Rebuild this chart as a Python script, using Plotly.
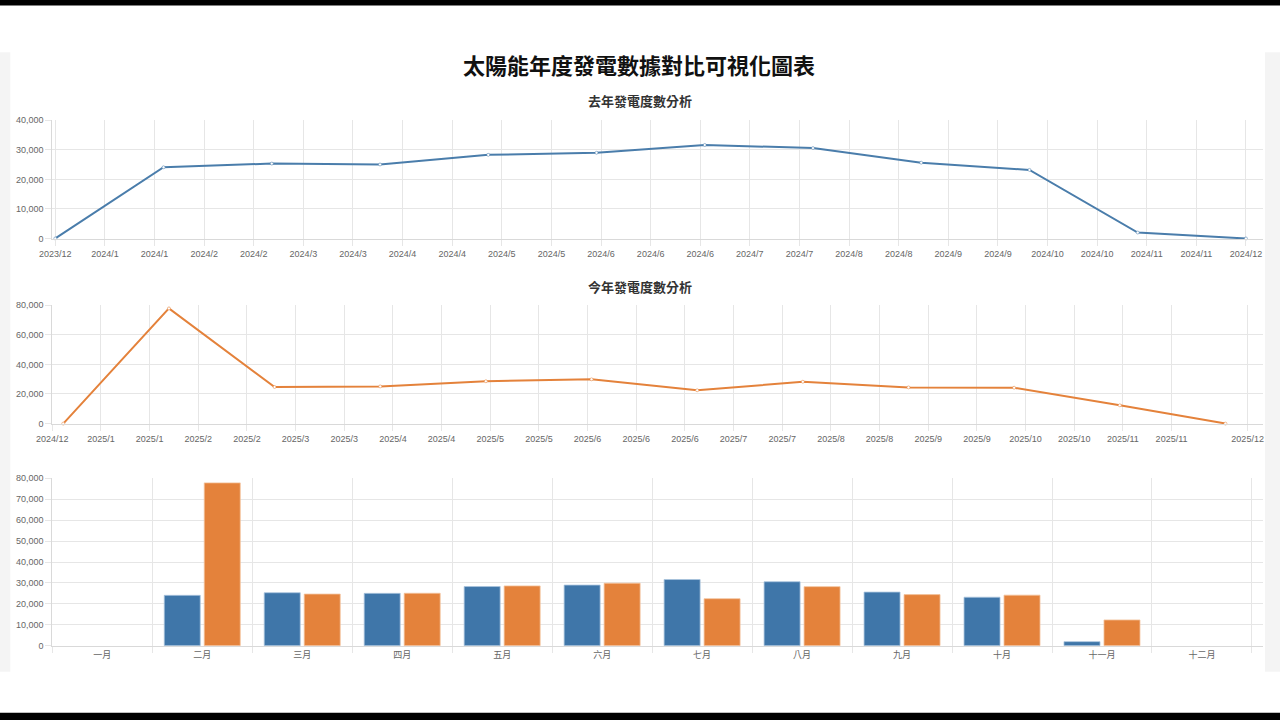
import numpy as np
import plotly.graph_objects as go

# ---------------- data ----------------
month_no = [1, 2, 3, 4, 5, 6, 7, 8, 9, 10, 11, 12]
month_labels = ["一月", "二月", "三月", "四月", "五月", "六月",
                "七月", "八月", "九月", "十月", "十一月", "十二月"]
last_year_kwh = [0, 24100, 25350, 25050, 28300, 29000, 31650, 30600, 25650, 23200, 2000, 0]
this_year_kwh = [0, 77800, 24700, 25100, 28600, 29900, 22500, 28250, 24450, 24200, 12350, 0]

last_year_ticks = ["2023/12", "2024/1", "2024/1", "2024/2", "2024/2", "2024/3", "2024/3",
                   "2024/4", "2024/4", "2024/5", "2024/5", "2024/6", "2024/6", "2024/6",
                   "2024/7", "2024/7", "2024/8", "2024/8", "2024/9", "2024/9", "2024/10",
                   "2024/10", "2024/11", "2024/11", "2024/12"]
this_year_ticks = ["2024/12", "2025/1", "2025/1", "2025/2", "2025/2", "2025/3", "2025/3",
                   "2025/4", "2025/4", "2025/5", "2025/5", "2025/6", "2025/6", "2025/6",
                   "2025/7", "2025/7", "2025/8", "2025/8", "2025/9", "2025/9", "2025/10",
                   "2025/10", "2025/11", "2025/11", "2025/12"]

main_title = "太陽能年度發電數據對比可視化圖表"
title_last = "去年發電度數分析"
title_this = "今年發電度數分析"

# ---------------- style ----------------
W, H = 1280, 720
BLUE = "#3f76a9"
ORANGE = "#e4823b"
GRID = "#e6e6e6"
TICKC = "#666666"
FONT = "Liberation Sans, Arial, Noto Sans CJK TC"
CJK = "Noto Sans CJK TC, Noto Sans CJK SC"

# the photographed page comes out slightly shrunk and offset; place things so that
# they land on the intended screen pixels
OX, OY, S = 15.7, 4.6, 0.987


def px_x(p):
    return ((p - OX) / S) / W


def px_y(p):
    return 1 - ((p - OY) / S) / H


x_dom = [px_x(52), px_x(1263)]

# tick positions (layout only)
tv1 = list(np.linspace(1, 12, 25))
tv2 = list(np.linspace(0.896, 11.49, 24)) + [12.21]

# zero months carry no bar
bar_last = [v if v else None for v in last_year_kwh]
bar_this = [v if v else None for v in this_year_kwh]

fig = go.Figure()

fig.add_trace(go.Scatter(
    x=month_no, y=last_year_kwh, mode="lines+markers",
    line=dict(color="#4a7dab", width=2),
    marker=dict(size=3, color="white", line=dict(color="#4a7dab", width=0.5)),
    xaxis="x", yaxis="y", showlegend=False, cliponaxis=False))

fig.add_trace(go.Scatter(
    x=month_no, y=this_year_kwh, mode="lines+markers",
    line=dict(color=ORANGE, width=2),
    marker=dict(size=3, color="white", line=dict(color=ORANGE, width=0.5)),
    xaxis="x2", yaxis="y2", showlegend=False, cliponaxis=False))

fig.add_trace(go.Bar(
    x=month_labels, y=bar_last, marker=dict(color=BLUE, line=dict(color="#a9c4dd", width=0.8)),
    xaxis="x3", yaxis="y3", showlegend=False))
fig.add_trace(go.Bar(
    x=month_labels, y=bar_this, marker=dict(color=ORANGE, line=dict(color="#f2c29c", width=0.8)),
    xaxis="x3", yaxis="y3", showlegend=False))

axis_common = dict(showgrid=True, gridcolor=GRID, gridwidth=1, zeroline=False,
                   showline=True, linecolor="#d9d9d9", linewidth=1,
                   ticks="outside", ticklen=6, tickcolor=GRID,
                   tickfont=dict(family=FONT, size=9, color=TICKC))

fig.update_layout(
    autosize=True,
    margin=dict(l=0, r=0, t=0, b=0),
    paper_bgcolor="white", plot_bgcolor="white",
    barmode="group", bargap=0.2, bargroupgap=0.1,
    font=dict(family=FONT),
    xaxis=dict(domain=x_dom, anchor="y", range=[0.972, 12.157],
               tickmode="array", tickvals=tv1, ticktext=last_year_ticks, tickangle=0, **axis_common),
    yaxis=dict(domain=[px_y(239), px_y(120)], anchor="x", range=[-250, 40000],
               tickvals=[0, 10000, 20000, 30000, 40000], tickformat=",d", **axis_common),
    xaxis2=dict(domain=x_dom, anchor="y2", range=[0.896, 12.355],
                tickmode="array", tickvals=tv2, ticktext=this_year_ticks, tickangle=0, **axis_common),
    yaxis2=dict(domain=[px_y(424.3), px_y(305)], anchor="x2", range=[-500, 80000],
                tickvals=[0, 20000, 40000, 60000, 80000], tickformat=",d", **axis_common),
    xaxis3=dict(domain=x_dom, anchor="y3", range=[-0.5, 11.61], type="category",
                tickson="boundaries", tickangle=0,
                **{k: v for k, v in axis_common.items() if k != "tickfont"},
                tickfont=dict(family=CJK, size=9, color=TICKC)),
    yaxis3=dict(domain=[px_y(646), px_y(478.3)], anchor="x3", range=[0, 80000],
                tickvals=list(range(0, 80001, 10000)), tickformat=",d", **axis_common),
)

# page decorations
shapes = [
    dict(type="rect", xref="paper", yref="paper", x0=-0.05, x1=px_x(10), y0=px_y(672), y1=px_y(52),
         fillcolor="#f4f4f4", line=dict(width=0), layer="below"),
    dict(type="rect", xref="paper", yref="paper", x0=px_x(1265), x1=1.05, y0=px_y(672), y1=px_y(52),
         fillcolor="#f4f4f4", line=dict(width=0), layer="below"),
    dict(type="rect", xref="paper", yref="paper", x0=-0.05, x1=1.05, y0=px_y(5), y1=1.05,
         fillcolor="black", line=dict(width=0), layer="above"),
    dict(type="rect", xref="paper", yref="paper", x0=-0.05, x1=1.05, y0=-0.05, y1=px_y(713),
         fillcolor="black", line=dict(width=0), layer="above"),
]
fig.update_layout(shapes=shapes)

fig.add_annotation(text=f"<b>{main_title}</b>", x=px_x(639), y=px_y(64), xref="paper", yref="paper",
                   showarrow=False, font=dict(family=CJK, size=22, color="#111111"),
                   xanchor="center", yanchor="middle")
fig.add_annotation(text=f"<b>{title_last}</b>", x=px_x(640), y=px_y(100), xref="paper", yref="paper",
                   showarrow=False, font=dict(family=CJK, size=13, color="#333333"),
                   xanchor="center", yanchor="middle")
fig.add_annotation(text=f"<b>{title_this}</b>", x=px_x(640), y=px_y(286), xref="paper", yref="paper",
                   showarrow=False, font=dict(family=CJK, size=13, color="#333333"),
                   xanchor="center", yanchor="middle")

fig.write_html(
    "out.html",
    config={"displayModeBar": False, "responsive": True},
    default_width="100vw", default_height="100vh",
    post_script=("var h=document.documentElement,b=document.body;"
                 "h.style.margin='0';h.style.padding='0';h.style.overflow='hidden';"
                 "b.style.margin='0';b.style.padding='0';b.style.overflow='hidden';"
                 "var g=document.getElementById('{plot_id}');"
                 "g.style.width='100vw';g.style.height='100vh';"
                 "Plotly.Plots.resize(g);"),
)
